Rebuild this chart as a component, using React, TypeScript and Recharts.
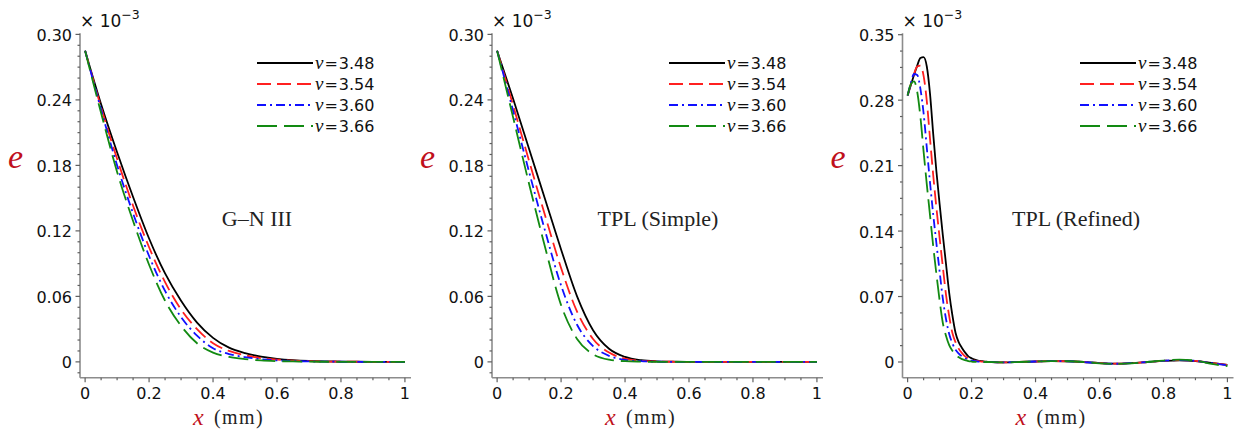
import React from 'react';
import { LineChart, Line, XAxis, YAxis, Legend } from 'recharts';

// ---------- data ----------
const xSteps = [0, 0.05, 0.1, 0.15, 0.2, 0.25, 0.3, 0.35, 0.4, 0.45, 0.5, 0.55, 0.6, 0.65, 0.7, 0.75, 0.8, 0.85, 0.9, 0.95, 1];

const gnBlack = [0.285, 0.236, 0.192, 0.151, 0.113, 0.081, 0.056, 0.036, 0.022, 0.013, 0.008, 0.0048, 0.0028, 0.0016, 0.0009, 0.0005, 0.0003, 0.0001, 0, 0, 0];
const gnRed = [0.285, 0.233, 0.186, 0.143, 0.105, 0.073, 0.048, 0.030, 0.017, 0.010, 0.006, 0.0035, 0.002, 0.0011, 0.0006, 0.0003, 0.0002, 0.0001, 0, 0, 0];
const gnBlue = [0.285, 0.231, 0.180, 0.136, 0.097, 0.065, 0.041, 0.024, 0.0125, 0.0072, 0.0043, 0.0025, 0.0014, 0.0008, 0.0004, 0.0002, 0.0001, 0, 0, 0, 0];
const gnGreen = [0.285, 0.228, 0.174, 0.129, 0.089, 0.056, 0.033, 0.017, 0.0085, 0.0045, 0.0025, 0.0013, 0.0007, 0.0004, 0.0002, 0.0001, 0, 0, 0, 0, 0];

const tsBlack = [0.285, 0.241, 0.195, 0.149, 0.103, 0.060, 0.029, 0.012, 0.0045, 0.0015, 0.0005, 0.0002, 0, 0, 0, 0, 0, 0, 0, 0, 0];
const tsRed = [0.285, 0.235, 0.184, 0.134, 0.086, 0.046, 0.021, 0.0085, 0.003, 0.001, 0.0003, 0.0001, 0, 0, 0, 0, 0, 0, 0, 0, 0];
const tsBlue = [0.285, 0.230, 0.174, 0.120, 0.070, 0.034, 0.0145, 0.0055, 0.0018, 0.0006, 0.0002, 0, 0, 0, 0, 0, 0, 0, 0, 0, 0];
const tsGreen = [0.285, 0.224, 0.163, 0.105, 0.052, 0.021, 0.007, 0.002, 0.0006, 0.0002, 0, 0, 0, 0, 0, 0, 0, 0, 0, 0, 0];

const xRefined = [0, 0.01, 0.02, 0.03, 0.04, 0.05, 0.06, 0.07, 0.08, 0.09, 0.1, 0.11, 0.12, 0.13, 0.14, 0.15, 0.16, 0.17, 0.18, 0.19, 0.2, 0.21, 0.22, 0.23, 0.24, 0.25,
  0.3, 0.35, 0.4, 0.45, 0.5, 0.55, 0.6, 0.65, 0.7, 0.75, 0.8, 0.85, 0.9, 0.95, 1];
const trBlack = [0.285, 0.296, 0.307, 0.317, 0.325, 0.326, 0.316, 0.287, 0.244, 0.204, 0.169, 0.136, 0.105, 0.074, 0.050, 0.031, 0.021, 0.015, 0.010, 0.006, 0.004, 0.0025, 0.0015, 0.001, 0.0005, 0.0002,
  -0.0005, 0, 0.0005, 0.001, 0.0008, 0, -0.0012, -0.0018, -0.0012, 0, 0.0012, 0.0018, 0.001, -0.001, -0.003];
const trRed = [0.285, 0.297, 0.308, 0.316, 0.317, 0.306, 0.279, 0.239, 0.200, 0.165, 0.133, 0.102, 0.072, 0.049, 0.031, 0.021, 0.014, 0.0095, 0.006, 0.004, 0.0025, 0.0015, 0.001, 0.0005, 0.0003, 0.0001,
  -0.0005, 0, 0.0005, 0.001, 0.0008, 0, -0.0012, -0.0018, -0.0012, 0, 0.0012, 0.0019, 0.0011, -0.0011, -0.0032];
const trBlue = [0.285, 0.298, 0.308, 0.307, 0.292, 0.266, 0.229, 0.192, 0.158, 0.127, 0.097, 0.068, 0.046, 0.030, 0.020, 0.013, 0.009, 0.006, 0.004, 0.0025, 0.0015, 0.001, 0.0005, 0.0003, 0.0001, 0,
  -0.0005, 0, 0.0005, 0.001, 0.0008, 0, -0.0013, -0.0019, -0.0013, 0, 0.0013, 0.002, 0.0012, -0.0012, -0.0036];
const trGreen = [0.285, 0.297, 0.300, 0.289, 0.262, 0.225, 0.190, 0.157, 0.124, 0.094, 0.066, 0.042, 0.028, 0.018, 0.012, 0.008, 0.005, 0.003, 0.002, 0.001, 0.0005, 0.0002, 0, 0, 0, 0,
  -0.0005, 0, 0.0005, 0.001, 0.0008, 0, -0.0015, -0.002, -0.0015, 0, 0.0015, 0.0025, 0.0015, -0.002, -0.0045];

const nuLabels = ['3.48', '3.54', '3.60', '3.66'];
const seriesColors = ['#000000', '#ff2020', '#1010ff', '#128a12'];
const seriesDash = ['', '14 6', '9 4 2 4', '20 7'];

const xMajorTicks = [0, 0.2, 0.4, 0.6, 0.8, 1];
const xMajorLabels = ['0', '0.2', '0.4', '0.6', '0.8', '1'];
const xMinorTicks = [0.05, 0.1, 0.15, 0.25, 0.3, 0.35, 0.45, 0.5, 0.55, 0.65, 0.7, 0.75, 0.85, 0.9, 0.95];

const yMajorA = [0, 0.06, 0.12, 0.18, 0.24, 0.3];
const yLabelsA = ['0', '0.06', '0.12', '0.18', '0.24', '0.30'];
const yMinorStepA = 0.01;
const yMajorB = [0, 0.07, 0.14, 0.21, 0.28, 0.35];
const yLabelsB = ['0', '0.07', '0.14', '0.21', '0.28', '0.35'];
const yMinorStepB = 0.0175;

const titles = ['G\u2013N III', 'TPL (Simple)', 'TPL (Refined)'];

// ---------- helpers ----------
const FRAME = '#8c8c8c';
const TICKC = '#606060';
const SANS = 'DejaVu Sans, Verdana, sans-serif';
const SERIF = 'Liberation Serif, Times New Roman, serif';

function buildRows(xs: number[], s: number[][]) {
  return xs.map((x, i) => ({ x, s0: s[0][i], s1: s[1][i], s2: s[2][i], s3: s[3][i] }));
}

function minorTicks(majors: number[], step: number, lo: number, hi: number) {
  const out: number[] = [];
  const n = Math.round((majors[1] - majors[0]) / step);
  for (let k = -n; k <= n * (majors.length + 1); k++) {
    const v = +(k * step).toFixed(6);
    if (v >= lo && v <= hi) out.push(v);
  }
  return out;
}

function isIn(v: number, arr: number[]) {
  return arr.findIndex((m) => Math.abs(m - v) < 1e-7);
}

const XTick = (props: any) => {
  const { x, y, payload } = props;
  const idx = isIn(payload.value, xMajorTicks);
  const major = idx >= 0;
  return (
    <g>
      <line x1={x} x2={x} y1={y} y2={y + (major ? 4.5 : 2.5)} stroke={TICKC} strokeWidth={1.2} />
      {major && (
        <text x={x} y={y + 21} textAnchor="middle" fontFamily={SANS} fontSize={16} fill="#111">
          {xMajorLabels[idx]}
        </text>
      )}
    </g>
  );
};

const makeYTick = (majors: number[], labels: string[]) => (props: any) => {
  const { x, y, payload } = props;
  const idx = isIn(payload.value, majors);
  const major = idx >= 0;
  return (
    <g>
      <line x1={x} x2={x - (major ? 4.5 : 2.5)} y1={y} y2={y} stroke={TICKC} strokeWidth={1.2} />
      {major && (
        <text x={x - 8} y={y + 6.5} textAnchor="end" fontFamily={SANS} fontSize={16} fill="#111">
          {labels[idx]}
        </text>
      )}
    </g>
  );
};

const LegendBox = () => (
  <svg width={130} height={90}>
    {nuLabels.map((v, i) => {
      const cy = 11 + i * 21;
      return (
        <g key={v}>
          <line x1={0} x2={56} y1={cy} y2={cy} stroke={seriesColors[i]} strokeWidth={1.8}
            strokeDasharray={seriesDash[i] || undefined} />
          <text x={58} y={cy + 5.8} fontFamily={SANS} fontSize={16} fill="#111">
            <tspan fontFamily={SERIF} fontStyle="italic" fontSize={19}>{'\u03bd'}</tspan>
            <tspan dx={1}>=</tspan>
            <tspan dx={1}>{v}</tspan>
          </text>
        </g>
      );
    })}
  </svg>
);

type PanelProps = {
  left: number;
  width: number;
  frameLeft: number;
  rows: any[];
  yDomain: [number, number];
  yMajors: number[];
  yLabels: string[];
  yMinorStep: number;
  title: string;
  titleX: number;
};

const PLOT_W = 331;
const PLOT_TOP = 33.3;
const PLOT_H = 344.4;
const XDOM: [number, number] = [-0.016, 1.019];

function Panel(p: PanelProps) {
  const ml = p.frameLeft - p.left - 60;
  const mr = p.left + p.width - (p.frameLeft + PLOT_W);
  const mb = 430 - PLOT_TOP - PLOT_H - 30;
  const yTicks = minorTicks(p.yMajors, p.yMinorStep, p.yDomain[0], p.yDomain[1]);
  const xTicks = [...xMajorTicks, ...xMinorTicks].sort((a, b) => a - b);
  const fl = p.frameLeft - p.left;
  return (
    <div style={{ position: 'absolute', left: p.left, top: 0, width: p.width, height: 430 }}>
      <LineChart width={p.width} height={430} data={p.rows}
        margin={{ top: PLOT_TOP, right: mr, bottom: mb, left: ml }}>
        <XAxis type="number" dataKey="x" domain={XDOM} allowDataOverflow ticks={xTicks} interval={0}
          height={30} tickSize={0} tickMargin={0} tickLine={false}
          axisLine={{ stroke: FRAME, strokeWidth: 1.6 }} tick={<XTick />} />
        <XAxis xAxisId="top" orientation="top" type="number" dataKey="x" domain={XDOM} allowDataOverflow
          height={0} tick={false} tickLine={false} axisLine={{ stroke: FRAME, strokeWidth: 1.6 }} />
        <YAxis type="number" domain={p.yDomain} allowDataOverflow ticks={yTicks} interval={0}
          width={60} tickSize={0} tickMargin={0} tickLine={false}
          axisLine={{ stroke: FRAME, strokeWidth: 1.6 }} tick={makeYTick(p.yMajors, p.yLabels)} />
        <YAxis yAxisId="right" orientation="right" type="number" domain={p.yDomain} allowDataOverflow
          width={0} tick={false} tickLine={false} axisLine={{ stroke: FRAME, strokeWidth: 1.6 }} />
        {[0, 1, 2, 3].map((i) => (
          <Line key={i} type="monotone" dataKey={'s' + i} stroke={seriesColors[i]} strokeWidth={1.8}
            strokeDasharray={seriesDash[i] || undefined} dot={false} activeDot={false}
            isAnimationActive={false} />
        ))}
        <Legend layout="vertical" align="center" verticalAlign="middle" content={<LegendBox />}
          wrapperStyle={{ left: fl + 177, top: 52, width: 130, height: 90 }} />
      </LineChart>
      <svg width={p.width} height={430} style={{ position: 'absolute', left: 0, top: 0, pointerEvents: 'none' }}>
        <text x={fl} y={27} fontFamily={SANS} fontSize={17} fill="#111">
          {'\u00d7 10'}
          <tspan fontSize={12.5} dy={-8}>{'\u22123'}</tspan>
        </text>
        <text x={p.frameLeft - p.left - 64.5} y={168} textAnchor="middle" fontFamily={SERIF}
          fontStyle="italic" fontSize={34} fill="#c0101c">e</text>
        <text x={fl + 113} y={424.5} fontFamily={SERIF} fontStyle="italic" fontSize={24} fill="#c0101c">x</text>
        <text x={fl + 134} y={424} fontFamily={SERIF} fontSize={20} letterSpacing={1.4} fill="#222">(mm)</text>
        <text x={p.titleX - p.left} y={226} textAnchor="middle" fontFamily={SERIF} fontSize={22} fill="#222">
          {p.title}
        </text>
      </svg>
    </div>
  );
}

const rowsA = buildRows(xSteps, [gnBlack, gnRed, gnBlue, gnGreen]);
const rowsB = buildRows(xSteps, [tsBlack, tsRed, tsBlue, tsGreen]);
const rowsC = buildRows(xRefined, [trBlack, trRed, trBlue, trGreen]);

export default function App() {
  return (
    <div style={{ position: 'absolute', left: 0, top: 0, width: 1241, height: 430, background: '#fff', overflow: 'hidden' }}>
      <Panel left={0} width={420} frameLeft={80} rows={rowsA} yDomain={[-0.0145, 0.301]}
        yMajors={yMajorA} yLabels={yLabelsA} yMinorStep={yMinorStepA} title={titles[0]} titleX={257} />
      <Panel left={412} width={420} frameLeft={492} rows={rowsB} yDomain={[-0.0145, 0.301]}
        yMajors={yMajorA} yLabels={yLabelsA} yMinorStep={yMinorStepA} title={titles[1]} titleX={658} />
      <Panel left={823} width={418} frameLeft={902.5} rows={rowsC} yDomain={[-0.0168, 0.3515]}
        yMajors={yMajorB} yLabels={yLabelsB} yMinorStep={yMinorStepB} title={titles[2]} titleX={1076} />
    </div>
  );
}
